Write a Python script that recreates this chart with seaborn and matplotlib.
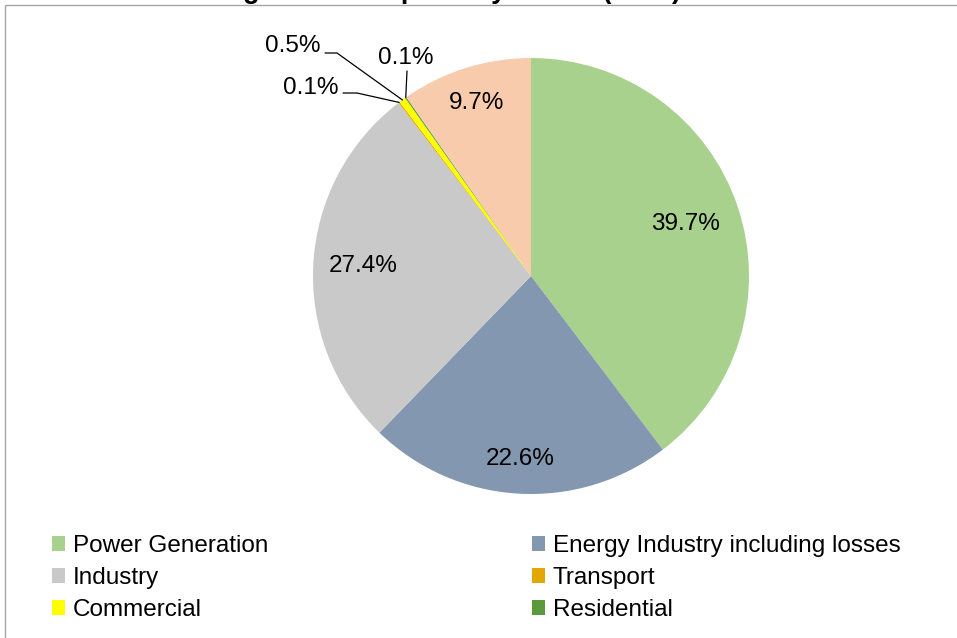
import numpy as np
import matplotlib
matplotlib.use("Agg")
import matplotlib.pyplot as plt
import seaborn as sns
from matplotlib.patches import Patch, Rectangle

# data
sectors = ['Power Generation', 'Energy Industry including losses', 'Industry',
           'Transport', 'Commercial', 'Residential', 'Other']
shares = [39.7, 22.6, 27.4, 0.1, 0.5, 0.1, 9.7]
colors = ['#A9D18E', '#8497B0', '#C9C9C9', '#E2A700', '#FFFF00', '#5B9A3B', '#F8CBAD']
legend_sectors = sectors[:6]
title = 'Natural gas consumption by sector (2017)'

sns.set_theme(style="white")
plt.rcParams['font.family'] = ['Liberation Sans', 'DejaVu Sans']
plt.rcParams['text.color'] = 'black'

W, H = 957, 638
fig = plt.figure(figsize=(W / 100, H / 100), dpi=100)
ax = fig.add_axes([0, 0, 1, 1])

cx, cy, R = 531, H - 276, 218
wedges, _ = ax.pie(shares, colors=colors, startangle=90, counterclock=False,
                   center=(cx, cy), radius=R, frame=True,
                   wedgeprops=dict(linewidth=0))
ax.set_xlim(0, W)
ax.set_ylim(0, H)
ax.set_aspect('equal')
ax.axis('off')

fs = 17.5
# inside labels, radial distance as fraction of radius
inside = {0: 0.75, 1: 0.84, 2: 0.77, 6: 0.83}
for i, d in inside.items():
    w = wedges[i]
    ang = np.deg2rad((w.theta1 + w.theta2) / 2)
    ax.text(cx + d * R * np.cos(ang), cy + d * R * np.sin(ang), f'{shares[i]}%',
            ha='center', va='center', fontsize=fs, color='black')

# outside labels with leader lines: (text x, text y, ha, elbow points)
outside = {
    3: (339, H - 88, 'right', [(343, H - 93), (357, H - 93)]),
    4: (321, H - 46, 'right', [(325, H - 53), (337, H - 53)]),
    5: (406, H - 58, 'center', [(407, H - 71)]),
}
for i, (tx, ty, ha, pts) in outside.items():
    w = wedges[i]
    ang = np.deg2rad((w.theta1 + w.theta2) / 2)
    ex, ey = cx + R * np.cos(ang), cy + R * np.sin(ang)
    xs = [p[0] for p in pts] + [ex]
    ys = [p[1] for p in pts] + [ey]
    ax.plot(xs, ys, color='black', linewidth=0.9)
    ax.text(tx, ty, f'{shares[i]}%', ha=ha, va='center', fontsize=fs, color='black')

# chart area frame
fig.patches.append(Rectangle((5 / W, -0.05), 1.1, 1.05 - 5 / H, transform=fig.transFigure,
                             fill=False, edgecolor='#A6A6A6', linewidth=1.0))

# title (cut off at the top as in the reference)
fig.text(681 / W, 1 + 1.5 / H, title, ha='right', va='baseline',
         fontsize=19.5, fontweight='bold', color='black')

handles = [Patch(facecolor=c, edgecolor='none') for c in colors[:6]]
leg_kw = dict(frameon=False, fontsize=fs, handlelength=0.55, handleheight=0.55,
              handletextpad=0.3, labelspacing=0.41, borderpad=0, borderaxespad=0)
fig.legend(handles[0::2], legend_sectors[0::2], loc='upper left',
           bbox_to_anchor=(52 / W, 1 - 535 / H), labelcolor='black', **leg_kw)
fig.legend(handles[1::2], legend_sectors[1::2], loc='upper left',
           bbox_to_anchor=(532 / W, 1 - 535 / H), labelcolor='black', **leg_kw)

fig.savefig('out.png', dpi=100)
